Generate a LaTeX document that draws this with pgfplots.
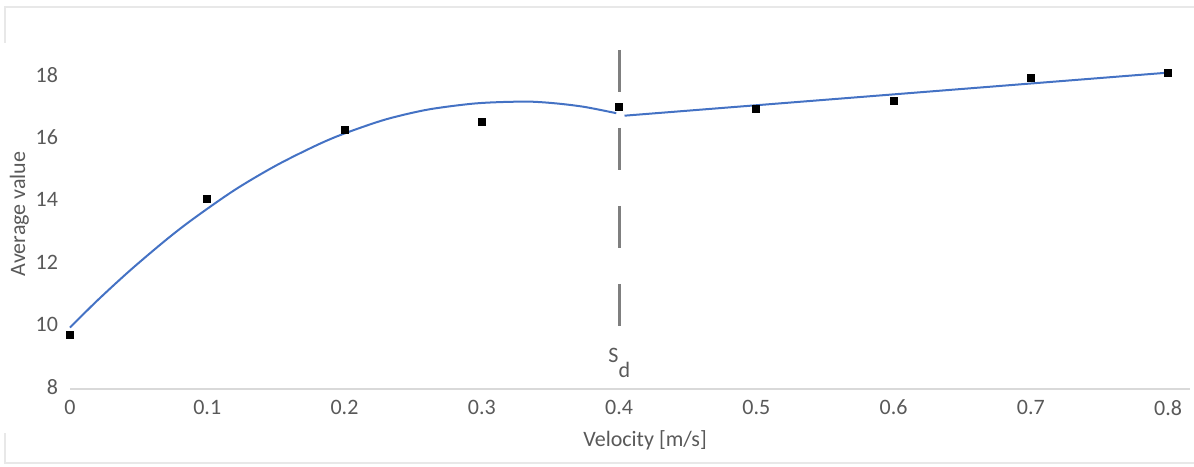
\documentclass[border=0pt]{standalone}
\usepackage{fontspec}
\setmainfont{Carlito}
\usepackage{pgfplots}
\pgfplotsset{compat=1.18}
\definecolor{fitblue}{HTML}{4472C4}
\definecolor{txt}{HTML}{595959}
\definecolor{axln}{HTML}{D9D9D9}
\definecolor{frm}{HTML}{E8E8E8}
\definecolor{sdline}{HTML}{7F7F7F}

\begin{document}
\begin{tikzpicture}
\useasboundingbox (0,0) rectangle (597pt,233pt);
% outer chart frame
\draw[frm, line width=0.9pt] (2.5pt,211.5pt) -- (2.5pt,229.5pt) -- (597pt,229.5pt);
\draw[frm, line width=0.9pt] (2.5pt,16.5pt) -- (2.5pt,1.5pt) -- (597pt,1.5pt);
\begin{axis}[
  at={(35pt,38.5pt)}, anchor=south west,
  scale only axis, width=560pt, height=179.4pt,
  xmin=0, xmax=0.816, ymin=8, ymax=19.5,
  axis x line*=bottom, axis y line*=left,
  x axis line style={axln, line width=1pt, -},
  y axis line style={draw=none},
  tick style={draw=none},
  xtick={0,0.1,0.2,0.3,0.4,0.5,0.6,0.7,0.8},
  xticklabels={0,0.1,0.2,0.3,0.4,0.5,0.6,0.7,0.8},
  ytick={8,10,12,14,16,18},
  yticklabels={8,10,12,14,16,18},
  /pgf/number format/assume math mode=true,
  ticklabel style={font=\fontsize{11}{13}\selectfont, text=txt},
  xticklabel style={yshift=-2pt},
  yticklabel style={xshift=-2.5pt, yshift=1pt},
  xlabel={Velocity [m/s]},
  ylabel={Average value},
  label style={font=\fontsize{11}{13}\selectfont, text=txt},
  xlabel style={at={(axis cs:0.419,8)}, anchor=base, yshift=-28.5pt},
  ylabel style={at={([xshift=-22.5pt]axis cs:0,13.61)}, anchor=base},
  clip=false,
]
% boundary velocity S_d
\addplot[sdline, line width=1.5pt, dash pattern=on 21pt off 18pt]
  coordinates {(0.4,18.87) (0.4,9.83)};
\node[anchor=base west, inner sep=0, text=txt, font=\fontsize{11}{13}\selectfont]
  at (axis cs:0.392,8.865) {S\raisebox{-7.5pt}{d}};

% fitted trend below S_d
\addplot[fitblue, line width=1pt, smooth] coordinates {
  (0,9.97) (0.02,10.84) (0.044,11.81) (0.07,12.78) (0.09,13.46)
  (0.12,14.38) (0.15,15.16) (0.18,15.82) (0.2,16.19) (0.23,16.64)
  (0.26,16.95) (0.29,17.13) (0.31,17.19) (0.335,17.21) (0.355,17.15)
  (0.375,17.04) (0.398,16.84)
};
% linear trend above S_d
\addplot[fitblue, line width=1pt] coordinates {(0.404,16.76) (0.8,18.14)};

% measured averages
\addplot[only marks, mark=square*, mark size=1.75pt, black] coordinates {
  (0,9.73) (0.1,14.08) (0.2,16.32) (0.3,16.57) (0.4,17.03)
  (0.5,16.97) (0.6,17.24) (0.7,17.96) (0.8,18.12)
};
\end{axis}
\end{tikzpicture}
\end{document}
